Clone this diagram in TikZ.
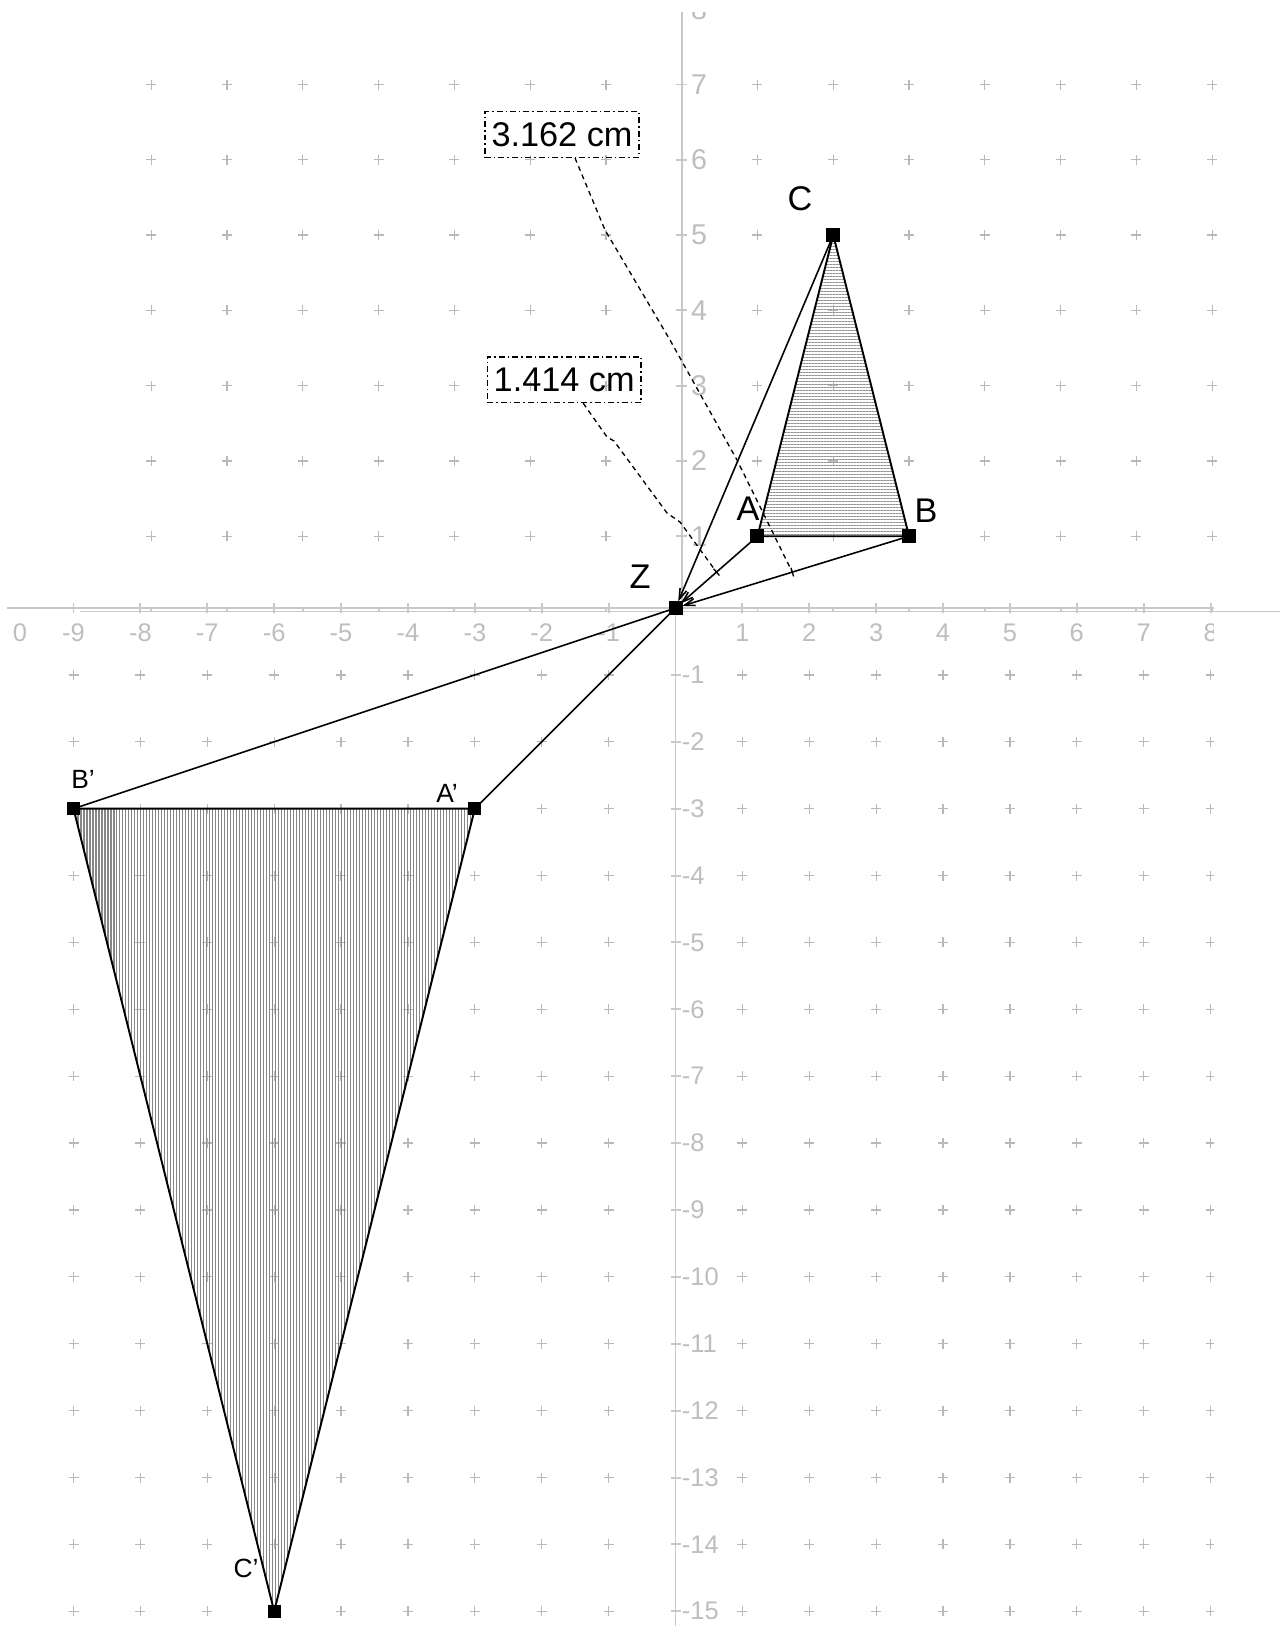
\documentclass[tikz,border=0pt]{standalone}
\usepackage{fontspec}
\setmainfont{Liberation Sans}
\usetikzlibrary{calc, arrows.meta, patterns.meta}
\definecolor{axisgray}{RGB}{200,200,200}
\definecolor{labelgray}{RGB}{190,190,190}
\definecolor{plusgray}{RGB}{185,185,185}
\definecolor{hatchlight}{RGB}{145,145,145}
\definecolor{hatchdark}{RGB}{135,135,135}

\tikzset{
  axisline/.style={draw=axisgray, line width=1.1pt},
  gridplus/.style={draw=plusgray, line width=0.7pt},
  ulabel/.style={labelgray, anchor=west, inner sep=0pt, font=\fontsize{16.3}{19}\selectfont},
  llabel/.style={labelgray, inner sep=0pt, font=\fontsize{14.5}{17}\selectfont},
  triside/.style={line width=1.1pt, line join=round},
  spoke/.style={line width=0.9pt},
  tozero/.style={-{Straight Barb[length=6pt, width=4pt]}, shorten >=0.14cm},
  vertex/.style={fill=black, inner sep=0pt, minimum size=0.28cm},
  ptlabel/.style={inner sep=0pt, font=\fontsize{19.5}{23}\selectfont},
  imglabel/.style={inner sep=0pt, font=\fontsize{15}{18}\selectfont},
  lenbox/.style={draw, line width=0.8pt, dash pattern=on 3.4pt off 1.7pt on 0.85pt off 1.7pt,
    minimum width=3.08cm, minimum height=0.912cm, inner sep=0pt, font=\fontsize{19.5}{23}\selectfont},
  leader/.style={line width=0.75pt, dash pattern=on 2.8pt off 2.3pt},
  leadertick/.style={line width=0.75pt}
}

\begin{document}
\begin{tikzpicture}[x=0.02cm, y=-0.02cm]
  \path[use as bounding box, fill=white] (0,0) rectangle (1280,1626);

  % upper window: origin (681.7,611.5), 1 unit = 75.8 px / 75.3 px
  \begin{scope}[shift={(681.7,611.5)}, x=1.516cm, y=1.506cm]
    \begin{scope}
      \clip (-8,-0.5) rectangle (8.6,7.955);
      \draw[axisline] (-7.94,0) -- (8.6,0);
      \draw[axisline] (0,0) -- (0,8.2);
      \foreach \gx in {-7,...,-1,1,2,...,7}
        \draw[axisline] (\gx,0) -- ++(0pt,0.1cm);
      \foreach \gy in {1,...,8} {
        \draw[axisline] (0,\gy) ++(-0.11cm,0pt) -- ++(0.22cm,0pt);
        \node[ulabel] (uy\gy) at (0.12,\gy) {\gy};
      }
      \foreach \gx in {-7,...,-1,1,2,...,7}
        \foreach \gy in {1,...,7}
          \draw[gridplus] (\gx,\gy) ++(-0.1cm,0pt) -- ++(0.2cm,0pt) ++(-0.1cm,-0.1cm) -- ++(0pt,0.2cm);
    \end{scope}
    \coordinate (A) at (1,1);
    \coordinate (B) at (3,1);
    \coordinate (C) at (2,5);
  \end{scope}

  % lower window: origin (675.5,608), 1 unit = 66.9 px
  \begin{scope}[shift={(675.5,608)}, x=1.338cm, y=1.338cm]
    \begin{scope}
      \clip (-11,0.5) rectangle (8.05,-16);
      \draw[axisline] (-10,0) -- (8.05,0);
      \draw[axisline] (0,0) -- (0,-16);
      \foreach \gx in {-9,...,-1,1,2,...,8}
        \draw[axisline] (\gx,0) ++(0pt,0.1cm) -- ++(0pt,-0.2cm);
      \foreach \gx in {-9,...,-1,1,2,...,8}
        \node[llabel] (lx\gx) at (\gx,-0.37) {\gx};
      \node[llabel] (lxzero) at (-9.8,-0.37) {0};
      \foreach \gy in {1,...,15} {
        \draw[axisline] (0,-\gy) ++(-0.1cm,0pt) -- ++(0.2cm,0pt);
        \node[llabel, anchor=west] (ly\gy) at (0.09,-\gy) {-\gy};
      }
      \foreach \gx in {-9,...,-1,1,2,...,8}
        \foreach \gy in {1,...,15}
          \draw[gridplus] (\gx,-\gy) ++(-0.1cm,0pt) -- ++(0.2cm,0pt) ++(-0.1cm,-0.1cm) -- ++(0pt,0.2cm);
    \end{scope}
    \coordinate (Z) at (0,0);
    \coordinate (Ai) at (-3,-3);
    \coordinate (Bi) at (-9,-3);
    \coordinate (Ci) at (-6,-15);
  \end{scope}

  \fill[pattern={Lines[angle=0, distance=0.06cm, line width=0.6pt]}, pattern color=hatchlight]
    (A) -- (B) -- (C) -- cycle;
  \fill[pattern={Lines[angle=90, distance=0.06cm, line width=0.6pt]}, pattern color=hatchdark]
    (Ai) -- (Bi) -- (Ci) -- cycle;
  \draw[triside] (A) -- (B) -- (C) -- cycle;
  \draw[triside] (Ai) -- (Bi) -- (Ci) -- cycle;

  \draw[spoke] (Z) -- (Ai);
  \draw[spoke] (Z) -- (Bi);
  \foreach \p in {A,B,C}
    \draw[spoke, tozero] (\p) -- (Z);

  \foreach \p in {Z,A,B,C}
    \node[vertex] (\p-dot) at (\p) {};
  \foreach \p in {Ai,Bi,Ci}
    \node[vertex, minimum size=0.26cm] (\p-dot) at (\p) {};

  \node[ptlabel] (Clab) at (800,198.5) {C};
  \node[ptlabel] (Alab) at (748,509) {A};
  \node[ptlabel] (Blab) at (926,511) {B};
  \node[ptlabel] (Zlab) at (640,577) {Z};
  \node[imglabel] (Bilab) at (83,779) {B'};
  \node[imglabel] (Ailab) at (447,793) {A'};
  \node[imglabel] (Cilab) at (246,1568) {C'};

  \node[lenbox] (lenZB) at (562,134.5) {3.162 cm};
  \node[lenbox] (lenZA) at (564.2,379.7) {1.414 cm};
  \coordinate (mZB) at ($(Z)!0.5!(B)$);
  \coordinate (mZA) at ($(Z)!0.5!(A)$);
  \draw[leader] ($(lenZB.south)+(13,0)$) -- (605,230) -- (670,340) -- (737,460) -- (mZB);
  \draw[leader] ($(lenZA.south)+(19,0)$) -- (607,437) -- (614,441) -- (667,513) -- (680,522) -- (mZA);
  \draw[leadertick] ($(mZB)!0.09cm!90:(B)$) -- ($(mZB)!0.09cm!-90:(B)$);
  \draw[leadertick] ($(mZA)!0.09cm!90:(A)$) -- ($(mZA)!0.09cm!-90:(A)$);
\end{tikzpicture}
\end{document}
